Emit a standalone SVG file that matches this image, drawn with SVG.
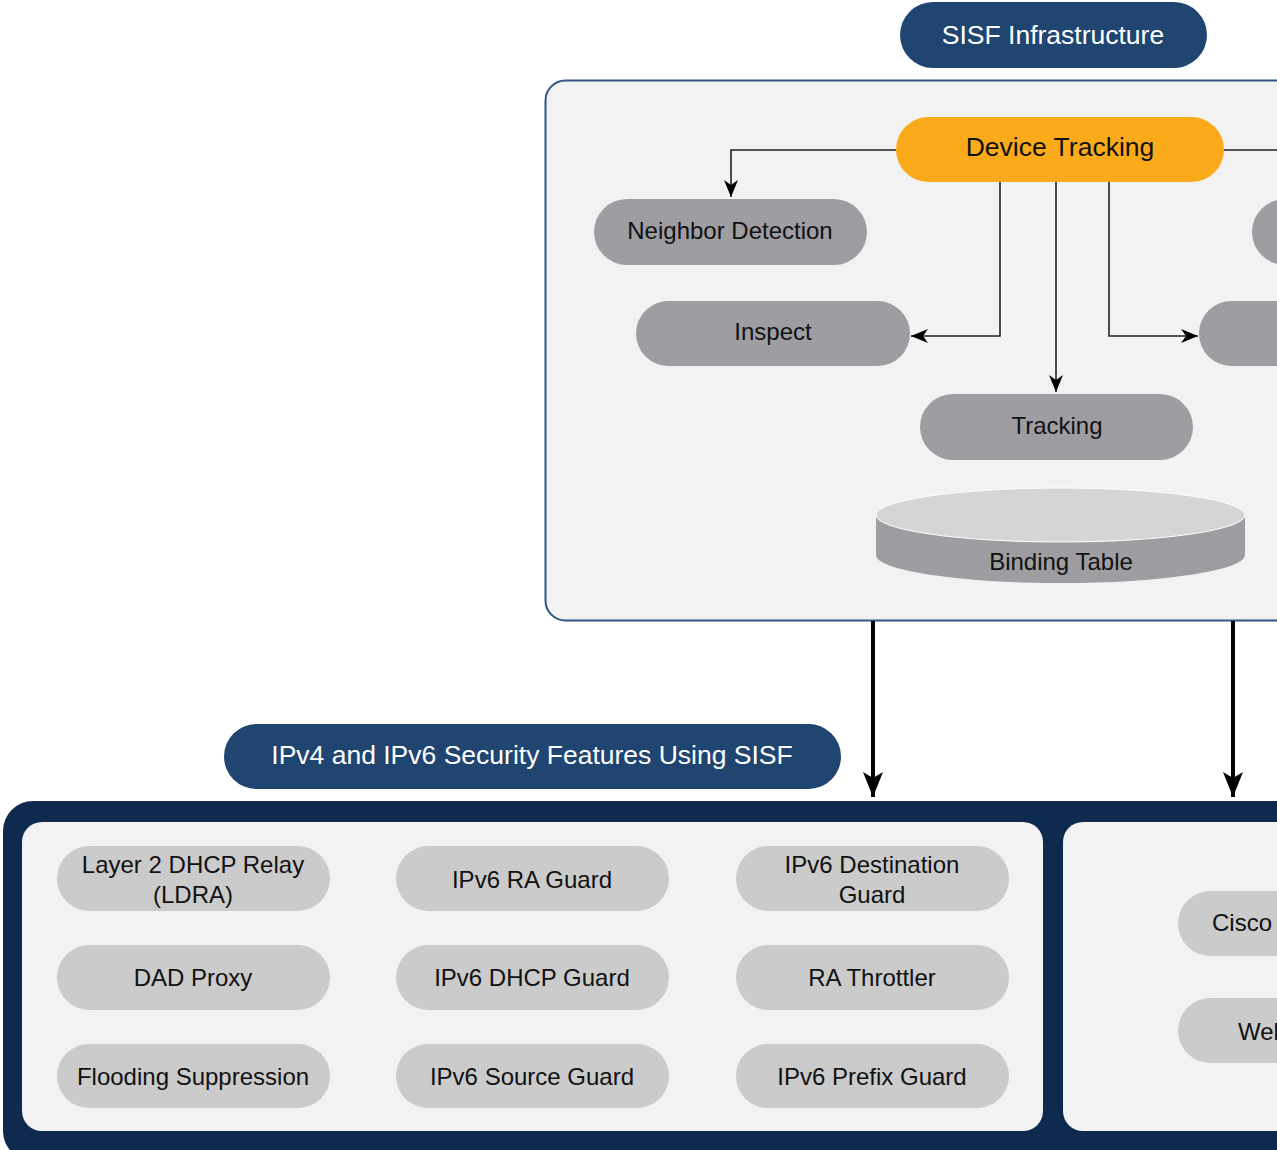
<svg xmlns="http://www.w3.org/2000/svg" width="1277" height="1150" viewBox="0 0 1277 1150">
<defs>
<style>
text{font-family:"Liberation Sans",Arial,sans-serif;text-anchor:middle;}
.hdr{fill:#1f4570;}
.hdrt{fill:#ffffff;font-size:26.5px;}
.proc{fill:#9e9da2;}
.feat{fill:#cbcbcb;}
.t{fill:#111111;font-size:24px;}
.thin{fill:none;stroke:#222222;stroke-width:1.6;}
.thick{fill:none;stroke:#000000;stroke-width:4;}
</style>
<marker id="ah" markerUnits="userSpaceOnUse" markerWidth="18" markerHeight="14" refX="17" refY="7" orient="auto">
<path d="M0,0 L17,7 L0,14 L5,7 Z" fill="#000"/>
</marker>
<marker id="ahb" markerUnits="userSpaceOnUse" markerWidth="26" markerHeight="20" refX="25" refY="10" orient="auto">
<path d="M0,0 L25,10 L0,20 L6,10 Z" fill="#000"/>
</marker>
</defs>
<rect width="1277" height="1150" fill="#ffffff"/>

<g id="sisf-container">
<rect x="545.5" y="80.5" width="760" height="540" rx="20" fill="#f2f2f2" stroke="#2f5585" stroke-width="2"/>
</g>

<g id="sisf-header">
<rect class="hdr" x="900" y="2" width="307" height="66" rx="33"/>
<text class="hdrt" x="1053" y="44">SISF Infrastructure</text>
</g>

<g id="connectors">
<path class="thin" d="M896,150 H731 V197" marker-end="url(#ah)"/>
<path class="thin" d="M1224,150 H1280"/>
<path class="thin" d="M1000,182 V336 H911" marker-end="url(#ah)"/>
<path class="thin" d="M1056,182 V392" marker-end="url(#ah)"/>
<path class="thin" d="M1109,182 V336 H1198" marker-end="url(#ah)"/>
<path class="thick" d="M873,621 V797" marker-end="url(#ahb)"/>
<path class="thick" d="M1233,621 V797" marker-end="url(#ahb)"/>
</g>

<g id="device-tracking">
<rect x="896" y="117" width="328" height="65" rx="32.5" fill="#fbab19"/>
<text x="1060" y="156" fill="#111" font-size="26.5px">Device Tracking</text>
</g>

<g id="neighbor-detection">
<rect class="proc" x="594" y="199" width="273" height="66" rx="33"/>
<text class="t" x="730" y="239">Neighbor Detection</text>
</g>

<g id="right-node-1">
<rect class="proc" x="1252" y="199" width="120" height="66" rx="33"/>
</g>

<g id="inspect">
<rect class="proc" x="636" y="301" width="274" height="65" rx="32.5"/>
<text class="t" x="773" y="340">Inspect</text>
</g>

<g id="right-node-2">
<rect class="proc" x="1199" y="301" width="160" height="65" rx="32.5"/>
</g>

<g id="tracking">
<rect class="proc" x="920" y="394" width="273" height="66" rx="33"/>
<text class="t" x="1057" y="434">Tracking</text>
</g>

<g id="binding-table">
<path d="M876,515 V555 A184,28 0 0 0 1245,555 V515 Z" fill="#9e9da2"/>
<ellipse cx="1060.5" cy="515" rx="184.5" ry="27" fill="#d4d6d6" stroke="#ffffff" stroke-width="1"/>
<text class="t" x="1061" y="570">Binding Table</text>
</g>

<g id="features-container">
<rect x="3" y="801" width="1320" height="360" rx="30" fill="#0f2a4f"/>
<rect x="22" y="822" width="1021" height="309" rx="20" fill="#f2f2f2"/>
<rect x="1063" y="822" width="260" height="309" rx="20" fill="#f2f2f2"/>
</g>

<g id="features-header">
<rect class="hdr" x="224" y="724" width="617" height="65" rx="32.5"/>
<text class="hdrt" x="532" y="764">IPv4 and IPv6 Security Features Using SISF</text>
</g>

<g id="ldra">
<rect class="feat" x="57" y="846" width="273" height="65" rx="32.5"/>
<text class="t" x="193" y="873">Layer 2 DHCP Relay</text>
<text class="t" x="193" y="903">(LDRA)</text>
</g>
<g id="ra-guard">
<rect class="feat" x="396" y="846" width="273" height="65" rx="32.5"/>
<text class="t" x="532" y="888">IPv6 RA Guard</text>
</g>
<g id="destination-guard">
<rect class="feat" x="736" y="846" width="273" height="65" rx="32.5"/>
<text class="t" x="872" y="873">IPv6 Destination</text>
<text class="t" x="872" y="903">Guard</text>
</g>
<g id="dad-proxy">
<rect class="feat" x="57" y="945" width="273" height="65" rx="32.5"/>
<text class="t" x="193" y="986">DAD Proxy</text>
</g>
<g id="dhcp-guard">
<rect class="feat" x="396" y="945" width="273" height="65" rx="32.5"/>
<text class="t" x="532" y="986">IPv6 DHCP Guard</text>
</g>
<g id="ra-throttler">
<rect class="feat" x="736" y="945" width="273" height="65" rx="32.5"/>
<text class="t" x="872" y="986">RA Throttler</text>
</g>
<g id="flooding-suppression">
<rect class="feat" x="57" y="1044" width="273" height="64" rx="32"/>
<text class="t" x="193" y="1085">Flooding Suppression</text>
</g>
<g id="source-guard">
<rect class="feat" x="396" y="1044" width="273" height="64" rx="32"/>
<text class="t" x="532" y="1085">IPv6 Source Guard</text>
</g>
<g id="prefix-guard">
<rect class="feat" x="736" y="1044" width="273" height="64" rx="32"/>
<text class="t" x="872" y="1085">IPv6 Prefix Guard</text>
</g>

<g id="cisco">
<rect class="feat" x="1178" y="891" width="200" height="65" rx="32.5"/>
<text class="t" x="1212" y="931" style="text-anchor:start">Cisco</text>
</g>
<g id="wel">
<rect class="feat" x="1178" y="998" width="200" height="65" rx="32.5"/>
<text class="t" x="1238" y="1040" style="text-anchor:start">Wel</text>
</g>
</svg>
